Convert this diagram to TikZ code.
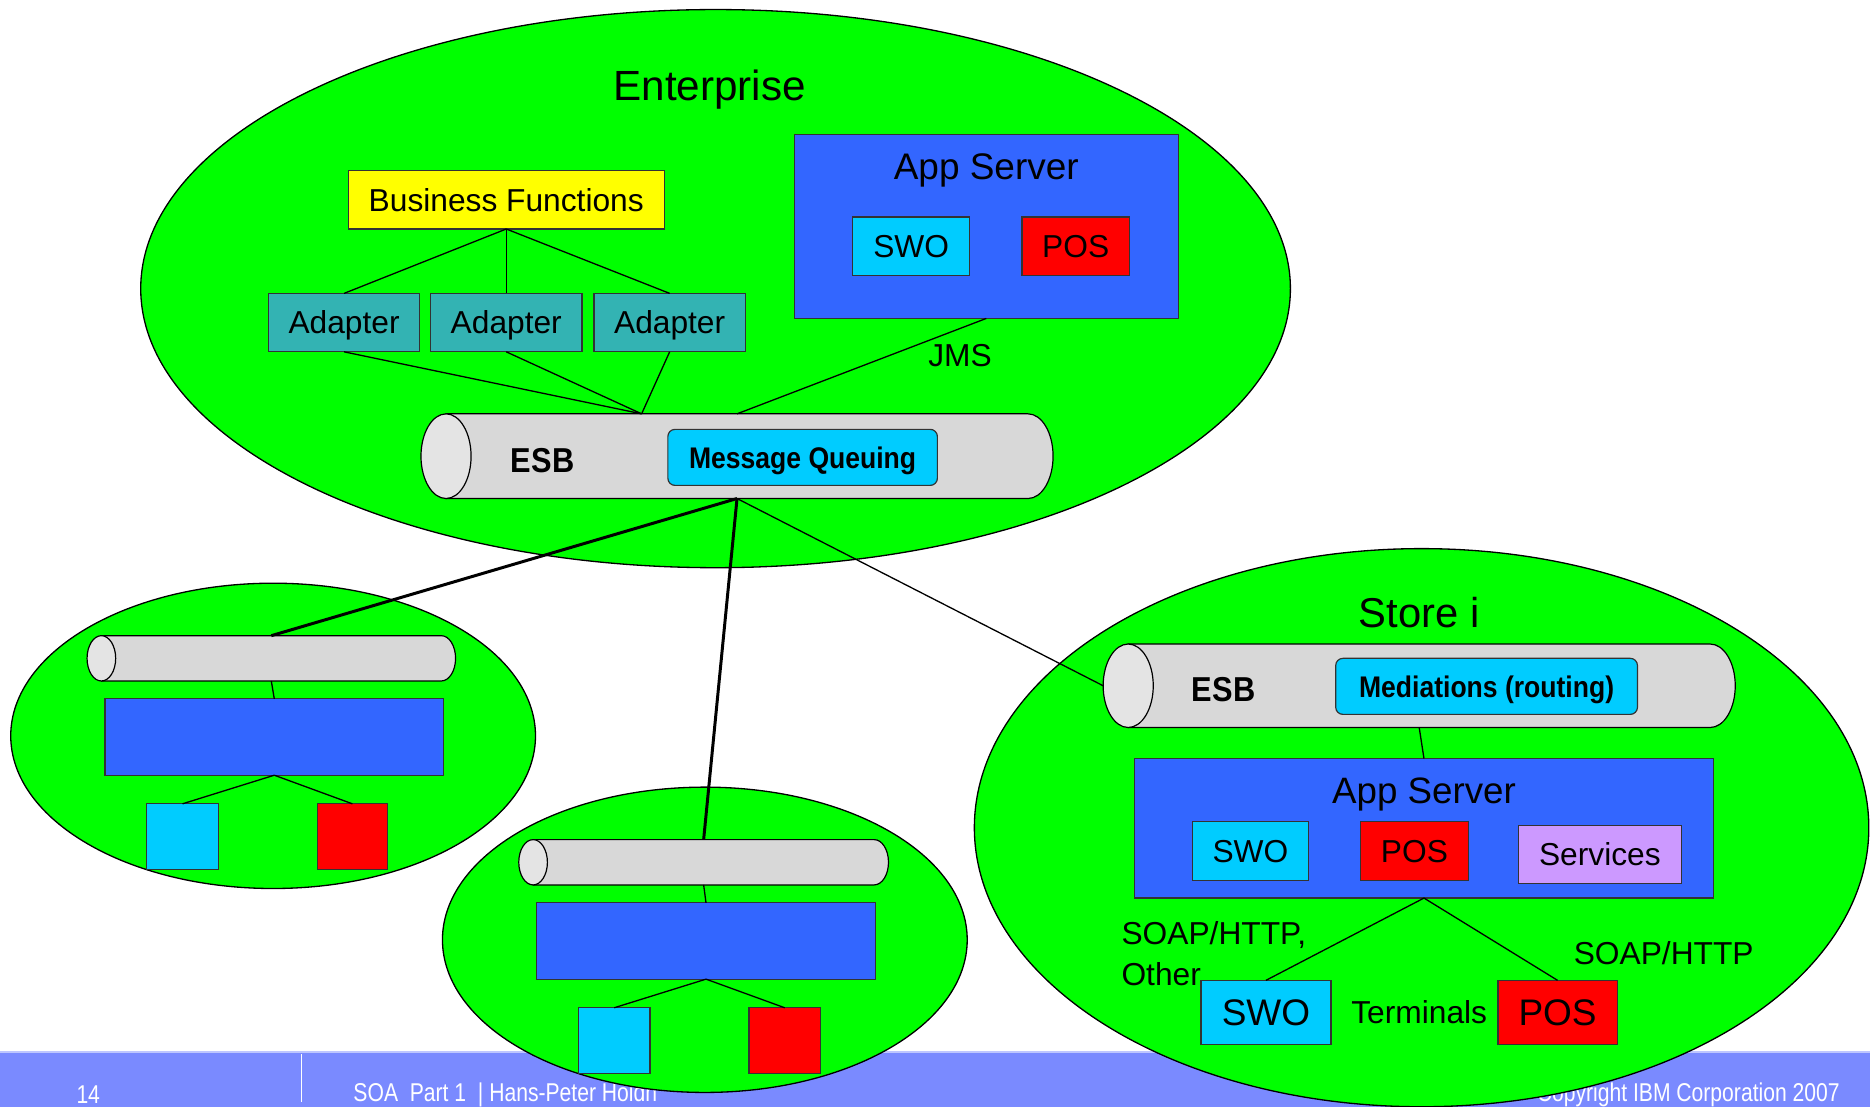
\documentclass[tikz,border=0pt]{standalone}
\usepackage{fontspec}
\usepackage{graphicx}
\setmainfont{Liberation Sans}
\usetikzlibrary{fit}

\definecolor{zonegreen}{RGB}{0,255,0}
\definecolor{srvblue}{RGB}{51,102,255}
\definecolor{swocyan}{RGB}{0,204,255}
\definecolor{posred}{RGB}{255,0,0}
\definecolor{bfyellow}{RGB}{255,255,0}
\definecolor{adteal}{RGB}{51,179,179}
\definecolor{svclilac}{RGB}{204,153,255}
\definecolor{tubegray}{RGB}{216,216,216}
\definecolor{tubeend}{RGB}{228,228,228}
\definecolor{footblue}{RGB}{122,138,255}
\definecolor{footedge}{RGB}{190,198,255}

\newcommand\fsz[1]{\fontsize{#1}{#1}\selectfont}
\newcommand\narrow[2]{\scalebox{#1}[1]{#2}}

% rectangular block spanning two corners: style, name, x1, y1, x2, y2, text
\newcommand\panel[7]{\node[panelbox,#1,
    minimum width={(#5-#3)*0.5pt}, minimum height={(#6-#4)*0.5pt}]
    (#2) at ({(#3+#5)/2},{(#4+#6)/2}) {#7};}

% horizontal bus tube: name, left end x, right end x, centre y, end x-radius, end y-radius
\newcommand\tube[6]{%
  \filldraw[tubeline, fill=tubegray] (#2,{#4+#6}) -- (#3,{#4+#6})
    arc[start angle=-90, end angle=90, x radius={#5*0.5pt}, y radius={#6*0.5pt}]
    -- (#2,{#4-#6}) -- cycle;
  \filldraw[tubeline, fill=tubeend] (#2,#4) ellipse[x radius={#5*0.5pt}, y radius={#6*0.5pt}];
  \node[inner sep=0pt, outer sep=0pt, fit={({#2-#5},{#4-#6})({#3+#5},{#4+#6})}] (#1) {};
}

\begin{document}
\begin{tikzpicture}[x=0.5pt, y=-0.5pt,
  zone/.style={fill=zonegreen, draw=black, line width=0.55pt},
  panelbox/.style={draw=black!80, line width=0.5pt, inner sep=0pt, outer sep=0pt,
                   text=black, font=\fsz{13.3}, text height=9.5pt, text depth=0pt},
  bigtext/.style={font=\fsz{15.5}, text height=11.1pt},
  wire/.style={draw=black, line width=0.55pt},
  trunk/.style={draw=black, line width=1.25pt},
  tubeline/.style={draw=black, line width=0.5pt},
  caption/.style={inner sep=0pt, text=black},
  footnote/.style={inner sep=0pt, text=white, font=\fsz{10.8}},
  badge/.style={rounded corners=3pt, fill=swocyan, font=\bfseries\fsz{12.5}, text height=9pt},
]
% canvas
\fill[white] (0,0) rectangle (1568,928);
\useasboundingbox (0,0) rectangle (1568,928);

% footer band
\fill[footblue] (0,882) rectangle (1568,928);
\draw[footedge, line width=0.6pt] (0,882) -- (1568,882);
\draw[white, line width=0.6pt] (253,884) -- (253,924);
\node[footnote] (pageno) at (74,918) {\narrow{0.82}{14}};
\node[footnote, anchor=west] (ftitle) at (296,918) {\narrow{0.82}{SOA\ \ Part 1\ \ | Hans-Peter Hoidn}};
\node[footnote, anchor=east] (fcopy) at (1543,918) {\narrow{0.82}{Copyright IBM Corporation 2007}};

% zones
\draw[zone] (600,242) ellipse[x radius=241pt, y radius=117pt];
\draw[zone] (229,617) ellipse[x radius=110pt, y radius=64pt];
\draw[zone] (591,788) ellipse[x radius=110pt, y radius=64pt];
\draw[zone] (1192,694) ellipse[x radius=187.5pt, y radius=117pt];

% ---------------- enterprise ----------------
\node[caption, font=\fsz{17.7}] (entTitle) at (595,75) {Enterprise};
\panel{fill=bfyellow}{bf}{292}{143}{557}{192}{Business Functions}
\panel{fill=adteal}{ad1}{225}{246}{352}{295}{Adapter}
\panel{fill=adteal}{ad2}{361}{246}{488}{295}{Adapter}
\panel{fill=adteal}{ad3}{498}{246}{625}{295}{Adapter}
\panel{fill=srvblue}{asE}{666}{113}{988}{267}{}
\node[caption, font=\fsz{15.5}] (asEtitle) at (827,143) {App Server};
\panel{fill=swocyan}{swoE}{715}{182}{813}{231}{SWO}
\panel{fill=posred}{posE}{857}{182}{947}{231}{POS}
\tube{esbE}{374}{862}{382.5}{21}{35.5}
\node[caption, font=\bfseries\fsz{14.5}] (esbEtxt) at (455,386) {\narrow{0.89}{ESB}};
\panel{badge}{mq}{560}{360}{786}{407}{\narrow{0.89}{Message Queuing}}
\coordinate (hub) at (538,347);
\node[caption, font=\fsz{13.3}] (jms) at (805,298) {JMS};

\draw[wire] (bf.south) -- (ad1.north);
\draw[wire] (bf.south) -- (ad2.north);
\draw[wire] (bf.south) -- (ad3.north);
\draw[wire] (ad1.south) -- (hub);
\draw[wire] (ad2.south) -- (hub);
\draw[wire] (ad3.south) -- (hub);
\draw[wire] (asE.south) -- (esbE.north);

% ---------------- left store ----------------
\tube{esbL}{85}{370}{552}{12}{19}
\panel{fill=srvblue}{asL}{88}{586}{372}{650}{}
\panel{fill=swocyan}{swoL}{123}{674}{183}{729}{}
\panel{fill=posred}{posL}{266}{674}{325}{729}{}
\draw[wire] (esbL.south) -- (asL.north);
\draw[wire] (asL.south) -- (swoL.north);
\draw[wire] (asL.south) -- (posL.north);

% ---------------- middle store ----------------
\tube{esbM}{447}{733}{723}{12}{19}
\panel{fill=srvblue}{asM}{450}{757}{734}{821}{}
\panel{fill=swocyan}{swoM}{485}{845}{545}{900}{}
\panel{fill=posred}{posM}{628}{845}{688}{900}{}
\draw[wire] (esbM.south) -- (asM.north);
\draw[wire] (asM.south) -- (swoM.north);
\draw[wire] (asM.south) -- (posM.north);

% ---------------- store i ----------------
\node[caption, font=\fsz{17.5}] (storeTitle) at (1190,514) {Store i};
\tube{esbS}{946}{1434}{575}{21}{35}
\node[caption, font=\bfseries\fsz{14.5}] (esbStxt) at (1026,578) {\narrow{0.89}{ESB}};
\panel{badge}{med}{1120}{552}{1373}{599}{\narrow{0.89}{Mediations (routing)}}
\panel{fill=srvblue}{asS}{951}{636}{1437}{753}{}
\node[caption, font=\fsz{15.4}] (asStitle) at (1194,666) {App Server};
\panel{fill=swocyan}{swoS}{1000}{689}{1097}{738}{SWO}
\panel{fill=posred}{posS}{1141}{689}{1231}{738}{POS}
\panel{fill=svclilac}{svcS}{1273}{692}{1410}{741}{Services}
\panel{fill=swocyan, bigtext}{termSwo}{1007}{822}{1116}{876}{SWO}
\panel{fill=posred, bigtext}{termPos}{1256}{822}{1356}{876}{POS}
\node[caption, font=\fsz{13.3}] (terms) at (1190,849) {Terminals};
\node[caption, font=\fsz{13.3}, anchor=west] (soapA) at (940,784) {SOAP/HTTP,};
\node[caption, font=\fsz{13.3}, anchor=west] (other) at (940,817) {Other};
\node[caption, font=\fsz{13.3}] (soapB) at (1395,799) {SOAP/HTTP};

\draw[wire] (esbS.south) -- (asS.north);
\draw[wire] (asS.south) -- (termSwo.north);
\draw[wire] (asS.south) -- (termPos.north);

% ---------------- enterprise bus to the stores ----------------
\draw[trunk] (esbE.south) -- (esbL.north);
\draw[trunk] (esbE.south) -- (esbM.north);
\draw[wire] (esbE.south) -- (esbS.west);
\end{tikzpicture}
\end{document}
